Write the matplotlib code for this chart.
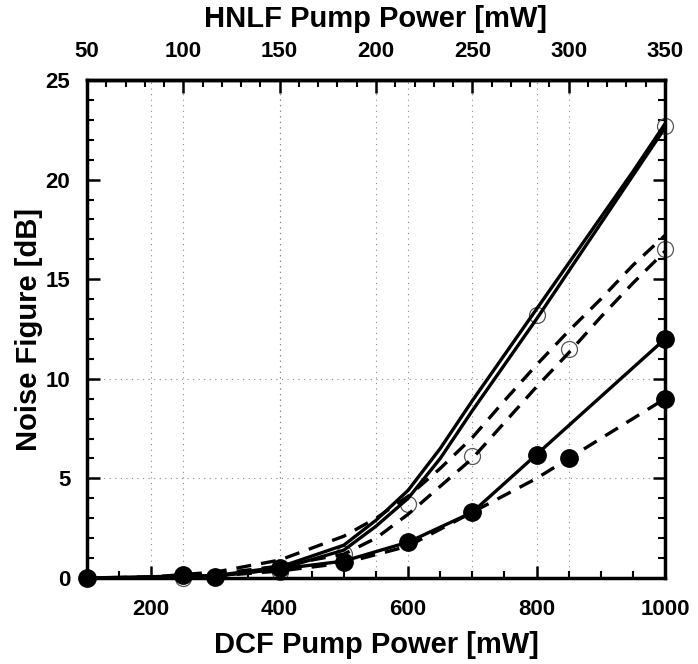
import matplotlib
matplotlib.use("Agg")
import matplotlib.pyplot as plt
from matplotlib.ticker import MultipleLocator

plt.rcParams['font.family'] = ['Liberation Sans', 'DejaVu Sans']
plt.rcParams['font.weight'] = 'bold'

# ---- data ----
dcf_sim = [100, 200, 300, 400, 500, 550, 600, 650, 700, 750, 800, 850, 900, 950, 1000]
solid_open_a = [0, 0.02, 0.12, 0.55, 1.65, 2.9, 4.4, 6.5, 8.9, 11.2, 13.5, 15.8, 18.1, 20.4, 22.8]
solid_open_b = [0, 0.02, 0.10, 0.45, 1.40, 2.6, 4.0, 6.0, 8.4, 10.7, 13.0, 15.4, 17.8, 20.2, 22.6]
dashed_open_a = [0, 0.05, 0.30, 0.90, 2.1, 3.0, 4.1, 5.5, 7.05, 8.9, 10.7, 12.4, 14.0, 15.7, 17.2]
dashed_open_b = [0, 0.03, 0.20, 0.60, 1.2, 2.0, 3.2, 4.6, 6.0, 7.8, 9.6, 11.3, 13.1, 14.8, 16.4]

solid_filled_x = [100, 250, 300, 400, 500, 600, 700, 800, 1000]
solid_filled_y = [0, 0.10, 0.10, 0.45, 0.85, 1.8, 3.3, 6.2, 12.0]
dashed_filled_x = [100, 200, 300, 400, 500, 600, 700, 800, 900, 1000]
dashed_filled_y = [0, 0.03, 0.10, 0.35, 0.75, 1.6, 3.3, 5.0, 7.0, 9.0]

open_x = [250, 400, 500, 600, 700, 800, 850, 1000, 1000]
open_y = [0.0, 0.3, 1.2, 3.7, 6.1, 13.2, 11.5, 22.7, 16.5]
filled_x = [100, 250, 300, 400, 500, 600, 700, 800, 850, 1000, 1000]
filled_y = [0, 0.15, 0.05, 0.5, 0.8, 1.8, 3.3, 6.2, 6.0, 12.0, 9.0]

dcf_major = [200, 400, 600, 800, 1000]
hnlf_major = [50, 100, 150, 200, 250, 300, 350]
y_major = [0, 5, 10, 15, 20, 25]
y_grid = [5, 10]


def dcf_to_hnlf(d):
    return (d - 100) / 3.0 + 50


def hnlf_to_dcf(h):
    return (h - 50) * 3.0 + 100


fig = plt.figure(figsize=(6.98, 6.64), dpi=100)
ax = fig.add_axes([0.1246, 0.1295, 0.8281, 0.75])

ax.set_xlim(100, 1000)
ax.set_ylim(0, 25)

# faint dotted grid
gkw = dict(color='#8a8a8a', lw=0.8, ls=(0, (1, 4)), zorder=0)
for xv in dcf_major[:-1]:
    ax.axvline(xv, **gkw)
for hv in hnlf_major[1:-1]:
    ax.axvline(hnlf_to_dcf(hv), **gkw)
for yv in y_grid:
    ax.axhline(yv, **gkw)

# open markers (behind lines)
ax.plot(open_x, open_y, 'o', ms=11.5, mfc='none', mec='#555555', mew=0.9,
        zorder=2, clip_on=False)

lw = 2.4
dash = (0, (4.5, 3))
ax.plot(dcf_sim, solid_open_a, color='black', lw=lw, zorder=3)
ax.plot(dcf_sim, solid_open_b, color='black', lw=lw, zorder=3)
ax.plot(dcf_sim, dashed_open_a, color='black', lw=lw, ls=dash, zorder=3)
ax.plot(dcf_sim, dashed_open_b, color='black', lw=lw, ls=dash, zorder=3)
ax.plot(solid_filled_x, solid_filled_y, color='black', lw=lw, zorder=3)
ax.plot(dashed_filled_x, dashed_filled_y, color='black', lw=lw, ls=dash, zorder=3)

ax.plot(filled_x, filled_y, 'o', ms=12.5, mfc='black', mec='black',
        zorder=4, clip_on=False)

# axes styling
for s in ax.spines.values():
    s.set_linewidth(2.5)

ax.set_xticks(dcf_major)
ax.xaxis.set_minor_locator(MultipleLocator(50))
ax.set_yticks(y_major)
ax.yaxis.set_minor_locator(MultipleLocator(1))
ax.tick_params(axis='both', which='major', direction='in', length=9, width=1.8,
               labelsize=16, right=True)
ax.tick_params(axis='both', which='minor', direction='in', length=5, width=1.5,
               right=True)
ax.tick_params(axis='x', which='both', top=False)
ax.tick_params(axis='x', which='major', pad=15)
ax.tick_params(axis='y', which='major', pad=12)

for lab in ax.get_xticklabels() + ax.get_yticklabels():
    lab.set_fontweight('bold')

ax.set_xlabel('DCF Pump Power [mW]', fontsize=21, fontweight='bold', labelpad=8)
ax.set_ylabel('Noise Figure [dB]', fontsize=21, fontweight='bold', labelpad=2)

top = ax.secondary_xaxis('top', functions=(dcf_to_hnlf, hnlf_to_dcf))
top.set_xticks(hnlf_major)
top.xaxis.set_minor_locator(MultipleLocator(10))
top.tick_params(axis='x', which='major', direction='in', length=9, width=1.8,
                labelsize=16, pad=13)
top.tick_params(axis='x', which='minor', direction='in', length=5, width=1.5)
top.spines['top'].set_linewidth(2.5)
for lab in top.get_xticklabels():
    lab.set_fontweight('bold')
top.set_xlabel('HNLF Pump Power [mW]', fontsize=21, fontweight='bold', labelpad=10)

fig.savefig('out.png', dpi=100)
